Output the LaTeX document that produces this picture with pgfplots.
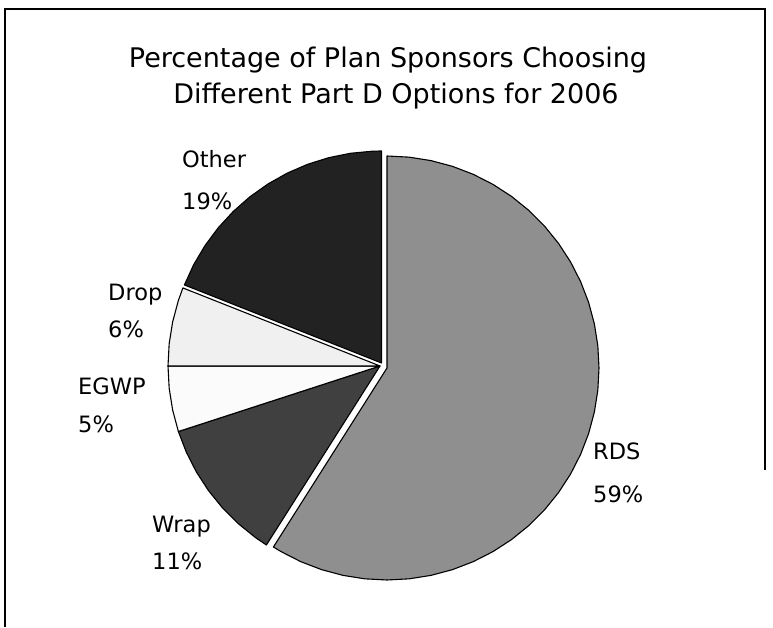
\documentclass[border=0pt]{standalone}
\usepackage{fontspec}
\setmainfont{DejaVu Sans}
\usepackage{pgfplots}
\pgfplotsset{compat=1.18}
\definecolor{rdsc}{HTML}{8F8F8F}
\definecolor{wrapc}{HTML}{404040}
\definecolor{egwpc}{HTML}{FBFBFB}
\definecolor{dropc}{HTML}{F0F0F0}
\definecolor{otherc}{HTML}{222222}
\begin{document}
\begin{tikzpicture}
\begin{axis}[
  x=1pt, y=1pt,
  xmin=-380, xmax=393, ymin=-261, ymax=366,
  hide axis, clip=false,
  every axis plot/.append style={draw=black, line width=1.1pt, line join=round},
]
\path (axis cs:-380,-261) rectangle (axis cs:393,366);
% RDS 59%
\addplot[fill=rdsc, data cs=polar, xshift=7pt, yshift=-2pt] coordinates {
 (0,0) (90,212) (84,212) (78,212) (72,212) (66,212) (60,212) (54,212) (48,212)
 (42,212) (36,212) (30,212) (24,212) (18,212) (12,212) (6,212) (0,212)
 (-6,212) (-12,212) (-18,212) (-24,212) (-30,212) (-36,212) (-42,212) (-48,212)
 (-54,212) (-60,212) (-66,212) (-72,212) (-78,212) (-84,212) (-90,212) (-96,212)
 (-102,212) (-108,212) (-114,212) (-120,212) (-122.4,212)} -- cycle;
% Wrap 11%
\addplot[fill=wrapc, data cs=polar] coordinates {
 (0,0) (-122.4,212) (-126,212) (-132,212) (-138,212) (-144,212) (-150,212)
 (-156,212) (-162,212)} -- cycle;
% EGWP 5%
\addplot[fill=egwpc, data cs=polar] coordinates {
 (0,0) (-162,212) (-168,212) (-174,212) (-180,212)} -- cycle;
% Drop 6%
\addplot[fill=dropc, data cs=polar] coordinates {
 (0,0) (180,212) (174,212) (168,212) (162,212) (158.4,212)} -- cycle;
% Other 19%
\addplot[fill=otherc, data cs=polar, xshift=1.5pt, yshift=3pt] coordinates {
 (0,0) (158.4,212) (152.4,212) (146.4,212) (140.4,212) (134.4,212) (128.4,212)
 (122.4,212) (116.4,212) (110.4,212) (104.4,212) (98.4,212) (92.4,212) (90,212)} -- cycle;
% frame
\draw[line width=1.5pt] (axis cs:-375,-261) -- (axis cs:-375,357) -- (axis cs:385,357) -- (axis cs:385,-104);
% title
\node[anchor=base, inner sep=0, font=\fontsize{27}{32}\selectfont] at (axis cs:8,298) {Percentage of Plan Sponsors Choosing};
\node[anchor=base, inner sep=0, font=\fontsize{27}{32}\selectfont] at (axis cs:16,262) {Different Part D Options for 2006};
% labels
\begin{scope}[every node/.style={anchor=base west, inner sep=0, font=\fontsize{22.5}{27}\selectfont}]
\node at (axis cs:-198,198) {Other};
\node at (axis cs:-198,156) {19\%};
\node at (axis cs:-272,65) {Drop};
\node at (axis cs:-272,28) {6\%};
\node at (axis cs:-302,-29) {EGWP};
\node at (axis cs:-302,-67) {5\%};
\node at (axis cs:-228,-167) {Wrap};
\node at (axis cs:-228,-204) {11\%};
\node at (axis cs:213,-94) {RDS};
\node at (axis cs:213,-137) {59\%};
\end{scope}
\end{axis}
\end{tikzpicture}
\end{document}
